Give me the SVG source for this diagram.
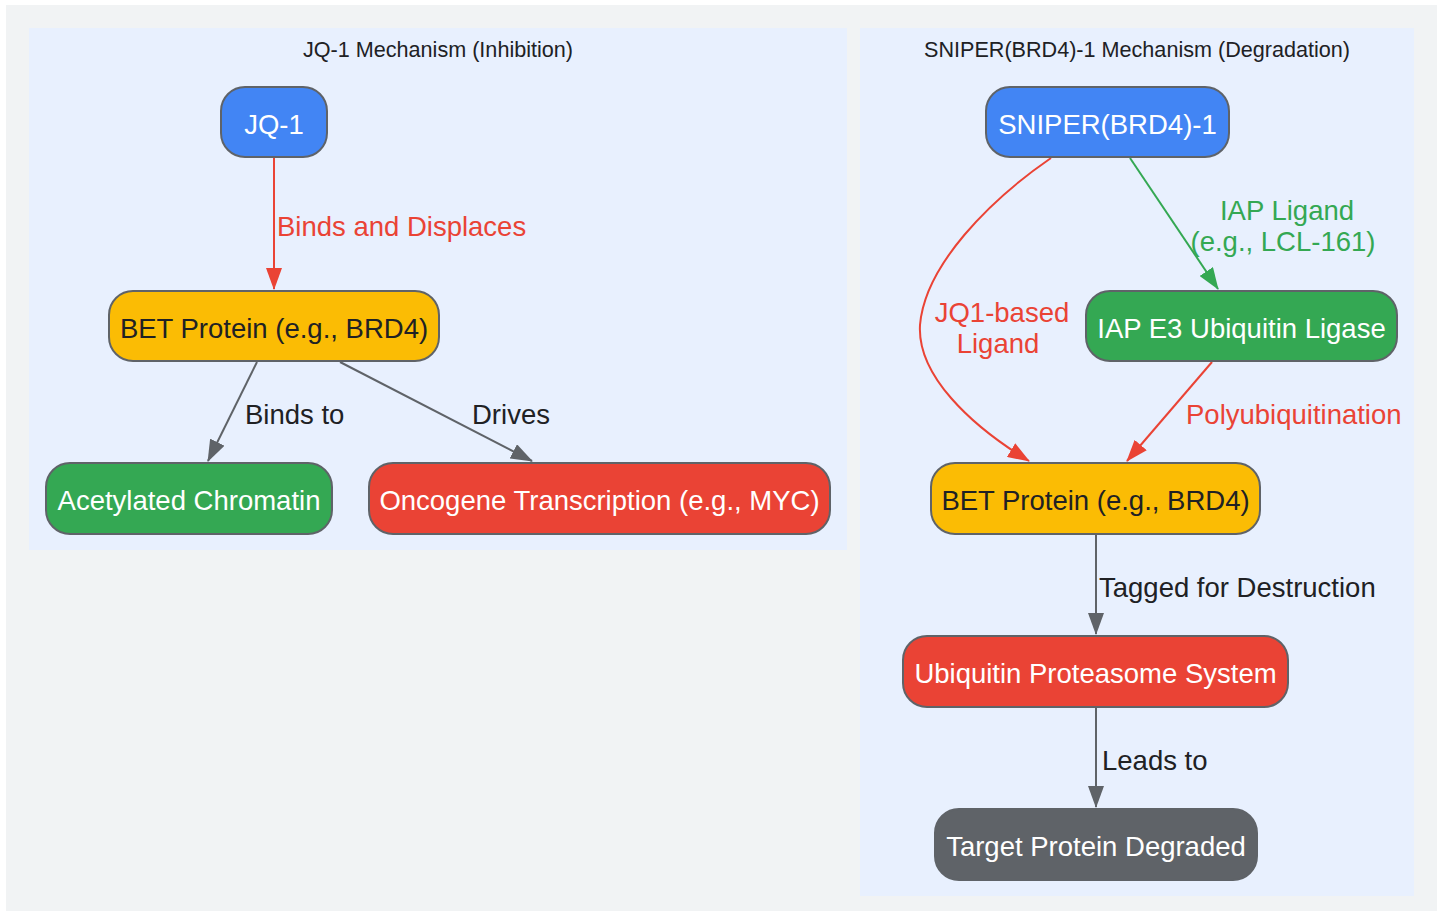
<svg xmlns="http://www.w3.org/2000/svg" width="1443" height="913" viewBox="0 0 1443 913">
<style>
text{font-family:"Liberation Sans",Arial,sans-serif;}
.title{font-size:21.6px;fill:#202124;text-anchor:middle;}
.nt{font-size:27.5px;text-anchor:middle;}
.w{fill:#ffffff;}
.d{fill:#202124;}
.node rect{stroke:#5f6368;stroke-width:2;}
.lbl{font-size:27.5px;}
.e{fill:none;stroke-width:2;}
</style>
<defs>
<marker id="ar" markerUnits="userSpaceOnUse" markerWidth="22" markerHeight="16" refX="21" refY="8" orient="auto"><path d="M0,0 L22,8 L0,16 z" fill="#ea4335"/></marker>
<marker id="ag" markerUnits="userSpaceOnUse" markerWidth="22" markerHeight="16" refX="21" refY="8" orient="auto"><path d="M0,0 L22,8 L0,16 z" fill="#5f6368"/></marker>
<marker id="agr" markerUnits="userSpaceOnUse" markerWidth="22" markerHeight="16" refX="21" refY="8" orient="auto"><path d="M0,0 L22,8 L0,16 z" fill="#34a853"/></marker>
</defs>
<rect x="0" y="0" width="1443" height="913" fill="#ffffff"/>
<rect x="6" y="5" width="1431" height="906" fill="#f1f3f4"/>
<g id="cluster-jq1">
<rect x="29" y="28" width="818" height="522" fill="#e8f0fe"/>
<text class="title" x="438" y="57">JQ-1 Mechanism (Inhibition)</text>
</g>
<g id="cluster-sniper">
<rect x="860" y="28" width="554" height="868" fill="#e8f0fe"/>
<text class="title" x="1137" y="57">SNIPER(BRD4)-1 Mechanism (Degradation)</text>
</g>
<g id="connectors">
<path class="e" stroke="#ea4335" d="M274,158 L274,289" marker-end="url(#ar)"/>
<text class="lbl" x="277" y="236" fill="#ea4335">Binds and Displaces</text>
<path class="e" stroke="#5f6368" d="M257,362 L208,461" marker-end="url(#ag)"/>
<text class="lbl d" x="245" y="424">Binds to</text>
<path class="e" stroke="#5f6368" d="M340,362 L532,461" marker-end="url(#ag)"/>
<text class="lbl d" x="472" y="424">Drives</text>
<path class="e" stroke="#ea4335" d="M1051,158 C990,200 925,265 920,325 C917,375 970,425 1029,461" marker-end="url(#ar)"/>
<text class="lbl" x="1002" y="322" fill="#ea4335" text-anchor="middle">JQ1-based</text>
<text class="lbl" x="998" y="353" fill="#ea4335" text-anchor="middle">Ligand</text>
<path class="e" stroke="#34a853" d="M1130,158 L1218,289" marker-end="url(#agr)"/>
<text class="lbl" x="1287" y="220" fill="#34a853" text-anchor="middle">IAP Ligand</text>
<text class="lbl" x="1283" y="251" fill="#34a853" text-anchor="middle">(e.g., LCL-161)</text>
<path class="e" stroke="#ea4335" d="M1212,362 L1127,461" marker-end="url(#ar)"/>
<text class="lbl" x="1186" y="424" fill="#ea4335">Polyubiquitination</text>
<path class="e" stroke="#5f6368" d="M1096,535 L1096,634" marker-end="url(#ag)"/>
<text class="lbl d" x="1099" y="597">Tagged for Destruction</text>
<path class="e" stroke="#5f6368" d="M1096,708 L1096,807" marker-end="url(#ag)"/>
<text class="lbl d" x="1102" y="770">Leads to</text>
</g>
<g id="jq1" class="node">
<rect x="221" y="87" width="106" height="70" rx="24" fill="#4285f4"/>
<text class="nt w" x="274" y="133.5">JQ-1</text>
</g>
<g id="bet-left" class="node">
<rect x="109" y="291" width="330" height="70" rx="24" fill="#fbbc04"/>
<text class="nt d" x="274" y="337.5">BET Protein (e.g., BRD4)</text>
</g>
<g id="chromatin" class="node">
<rect x="46" y="463" width="286" height="71" rx="24" fill="#34a853"/>
<text class="nt w" x="189" y="509.5">Acetylated Chromatin</text>
</g>
<g id="oncogene" class="node">
<rect x="369" y="463" width="461" height="71" rx="24" fill="#ea4335"/>
<text class="nt w" x="599.5" y="509.5">Oncogene Transcription (e.g., MYC)</text>
</g>
<g id="sniper" class="node">
<rect x="986" y="87" width="243" height="70" rx="24" fill="#4285f4"/>
<text class="nt w" x="1107.5" y="133.5">SNIPER(BRD4)-1</text>
</g>
<g id="iap" class="node">
<rect x="1086" y="291" width="311" height="70" rx="24" fill="#34a853"/>
<text class="nt w" x="1241.5" y="337.5">IAP E3 Ubiquitin Ligase</text>
</g>
<g id="bet-right" class="node">
<rect x="931" y="463" width="329" height="71" rx="24" fill="#fbbc04"/>
<text class="nt d" x="1095.5" y="509.5">BET Protein (e.g., BRD4)</text>
</g>
<g id="ups" class="node">
<rect x="903" y="636" width="385" height="71" rx="24" fill="#ea4335"/>
<text class="nt w" x="1095.5" y="682.5">Ubiquitin Proteasome System</text>
</g>
<g id="target" class="node">
<rect x="935" y="809" width="322" height="71" rx="24" fill="#5f6368"/>
<text class="nt w" x="1096" y="855.5">Target Protein Degraded</text>
</g>
</svg>
